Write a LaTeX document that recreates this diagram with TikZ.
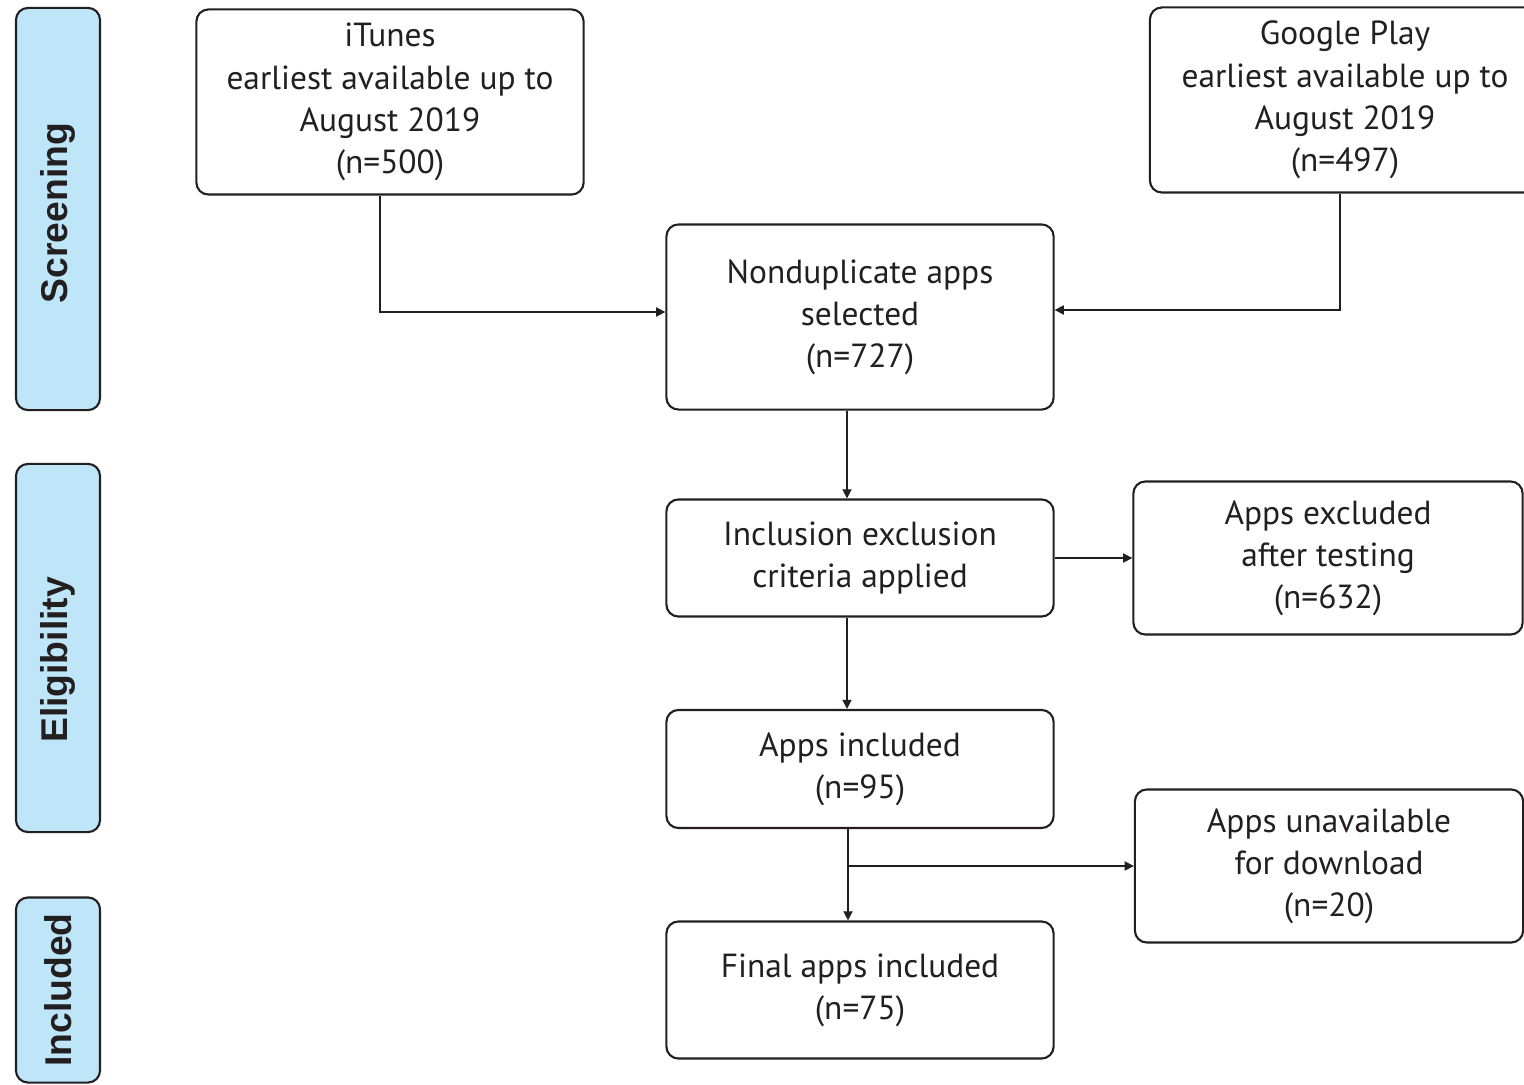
\documentclass[tikz,border=0pt]{standalone}
\usepackage{fontspec}
\setmainfont{PT Sans}
\setsansfont{Liberation Sans}
\usetikzlibrary{arrows.meta}
\definecolor{stageblue}{RGB}{190,230,248}
\definecolor{inkgray}{RGB}{35,31,32}

\tikzset{
  flowbox/.style={draw=inkgray,line width=0.6pt,rounded corners=0.12cm,align=center,
    text=inkgray,font=\fontsize{9.5}{12}\selectfont,minimum width=3.87cm,inner sep=0pt},
  stagebar/.style={draw=inkgray,line width=0.6pt,fill=stageblue,rounded corners=0.12cm,
    minimum width=0.84cm,text=inkgray,inner sep=0pt,
    font=\sffamily\bfseries\fontsize{10.6}{12}\selectfont},
  arr/.style={draw=inkgray,line width=0.4pt,-{Triangle[length=2.6pt,width=2.6pt]}}
}

\begin{document}
\begin{tikzpicture}[x=0.01cm,y=-0.01cm]
\useasboundingbox (0,0) rectangle (1524,1085);
% Stage bars on the left
\node[stagebar,minimum height=4.02cm] (screen) at (58,209) {\rotatebox{90}{Screening\hspace{0.08cm}}};
\node[stagebar,minimum height=3.68cm] (elig) at (58,648) {\rotatebox{90}{Eligibility\hspace{0.24cm}}};
\node[stagebar,minimum height=1.85cm] (incl) at (58,990) {\rotatebox{90}{Included}};
% Sources
\node[flowbox,minimum height=1.85cm] (itunes) at (390,102) {iTunes\\earliest available up to\\August 2019\\(n=500)};
\node[flowbox,minimum height=1.85cm,minimum width=3.90cm] (gplay) at (1345,100) {Google Play\\earliest available up to\\August 2019\\(n=497)};
% Main column
\node[flowbox,minimum height=1.85cm] (nondup) at (860,317) {Nonduplicate apps\\selected\\(n=727)};
\node[flowbox,minimum height=1.17cm] (criteria) at (860,558) {Inclusion exclusion\\criteria applied};
\node[flowbox,minimum height=1.18cm] (appsin) at (860,769) {Apps included\\(n=95)};
\node[flowbox,minimum height=1.37cm] (final) at (860,990) {Final apps included\\(n=75)};
% Side boxes
\node[flowbox,minimum height=1.53cm,minimum width=3.89cm] (excluded) at (1328,558) {Apps excluded\\after testing\\(n=632)};
\node[flowbox,minimum height=1.53cm,minimum width=3.88cm] (unavail) at (1329,866) {Apps unavailable\\for download\\(n=20)};
% Connectors
\draw[arr] ([xshift=-0.1cm]itunes.south) |- ([yshift=0.05cm]nondup.west);
\draw[arr] ([xshift=-0.05cm]gplay.south) |- ([yshift=0.07cm]nondup.east);
\draw[arr] ([xshift=-0.13cm]nondup.south) -- ([xshift=-0.13cm]criteria.north);
\draw[arr] (criteria.east) -- (excluded.west);
\draw[arr] ([xshift=-0.13cm]criteria.south) -- ([xshift=-0.13cm]appsin.north);
\coordinate (split) at ([xshift=-0.12cm]appsin.south |- unavail.west);
\draw[arr] ([xshift=-0.12cm]appsin.south) -- ([xshift=-0.12cm]final.north);
\draw[arr] (split) -- (split -| unavail.west);
\end{tikzpicture}
\end{document}
